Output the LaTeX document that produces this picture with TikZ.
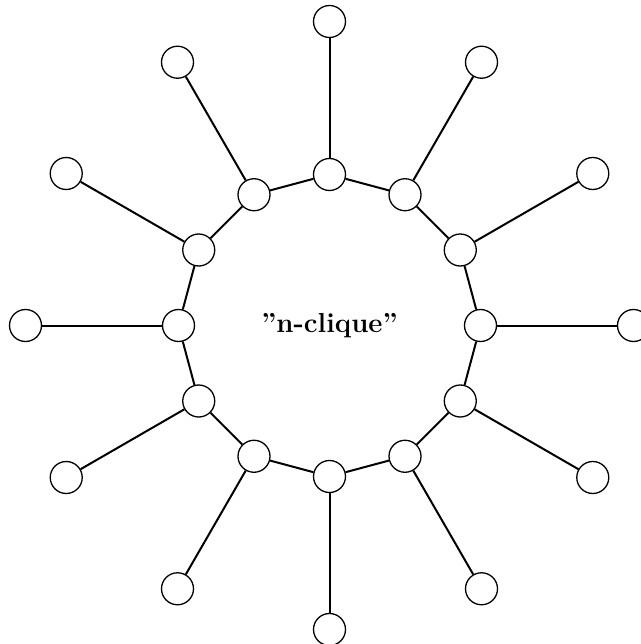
\documentclass[tikz,border=0pt]{standalone}
\usetikzlibrary{calc}
\begin{document}
\begin{tikzpicture}[x=1pt,y=-1pt,
  vertex/.style={circle,draw=black,line width=1.3pt,fill=white,minimum size=32pt,inner sep=0pt},
  edge/.style={line width=2pt,black}]
\useasboundingbox (0,0) rectangle (640,644);
\coordinate (c) at (329.5,325.5);
% inner ring and outer pendants
\foreach \k in {0,...,11}{
  \pgfmathsetmacro{\ang}{90+30*\k}
  \node[vertex] (i\k) at ($(c)+(\ang:151)$) {};
  \node[vertex] (o\k) at ($(c)+(\ang:304)$) {};
}
\foreach \k in {0,...,11}{
  \pgfmathtruncatemacro{\nxt}{mod(\k+1,12)}
  \draw[edge] (i\k) -- (i\nxt);
  \draw[edge] (i\k) -- (o\k);
}
\node (lbl) at (c) {\fontsize{27.5}{33}\selectfont\bfseries "n-clique"};
\end{tikzpicture}
\end{document}
